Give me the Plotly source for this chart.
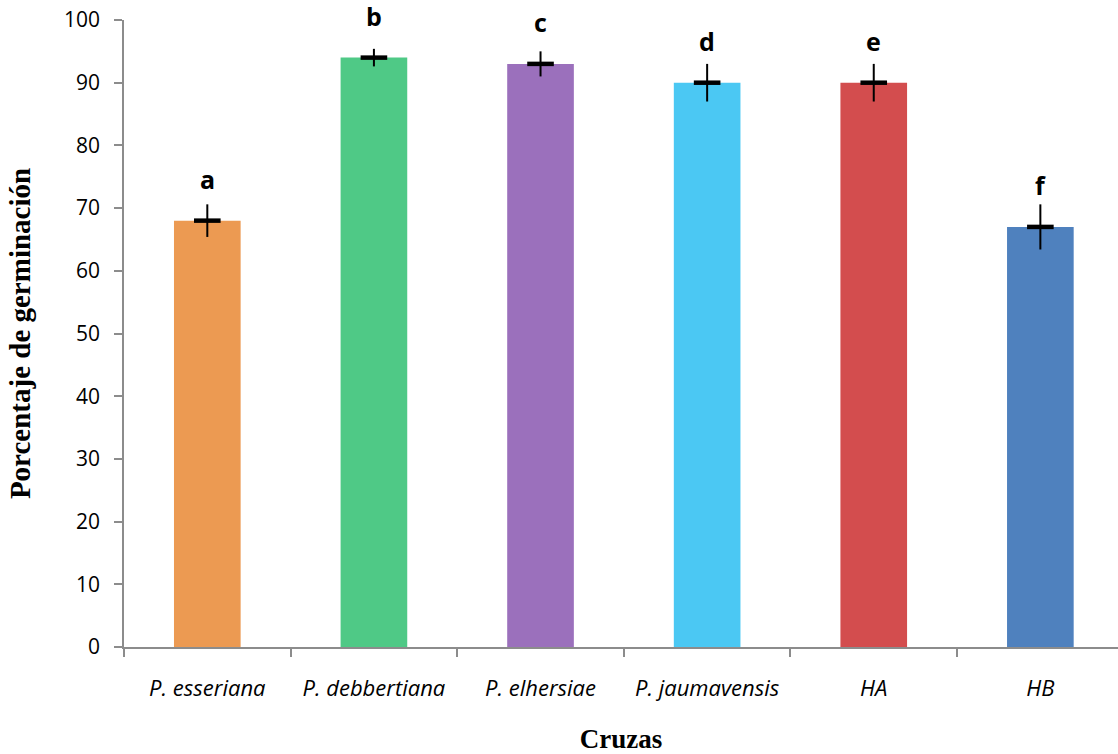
import plotly.graph_objects as go

# Germination percentage per cross, with standard error and significance letters
cruzas = ["P. esseriana", "P. debbertiana", "P. elhersiae", "P. jaumavensis", "HA", "HB"]
germinacion = [68, 94, 93, 90, 90, 67]
error = [2.6, 1.4, 2.0, 3.0, 3.0, 3.6]
letras = ["a", "b", "c", "d", "e", "f"]
colores = ["#EC9A52", "#4FC986", "#9B70BC", "#4BC8F3", "#D34D4E", "#4F81BE"]
y_ticks = list(range(0, 101, 10))

fig = go.Figure()

fig.add_trace(go.Bar(
    x=cruzas,
    y=germinacion,
    width=0.4,
    marker=dict(color=colores, line=dict(width=0)),
    error_y=dict(type="data", array=error, visible=True,
                 color="black", thickness=2, width=0),
    showlegend=False,
))

# thick horizontal mark at each mean
fig.add_trace(go.Scatter(
    x=cruzas,
    y=germinacion,
    mode="markers",
    marker=dict(symbol="line-ew", size=19, line=dict(width=4.5, color="black")),
    showlegend=False,
    hoverinfo="skip",
))

# significance letters a fixed distance above each bar top
for cat, val, letra in zip(cruzas, germinacion, letras):
    fig.add_annotation(
        x=cat, y=val, yshift=42,
        text="<b>%s</b>" % letra,
        showarrow=False,
        xanchor="center", yanchor="middle",
        font=dict(family="'Open Sans', sans-serif", size=25, color="black"),
    )

axis_color = "#8C8C8C"

fig.update_layout(
    width=1118,
    height=754,
    margin=dict(l=124, r=0, t=20, b=107),
    plot_bgcolor="white",
    paper_bgcolor="white",
    font=dict(family="'Open Sans', sans-serif", size=20, color="black"),
    bargap=0.6,
    xaxis=dict(
        type="category",
        range=[-0.5, 5.466],
        showline=True,
        linecolor=axis_color,
        linewidth=1.5,
        ticks="outside",
        tickson="boundaries",
        ticklen=8,
        tickwidth=1.5,
        tickcolor=axis_color,
        tickfont=dict(family="'Open Sans', sans-serif", size=22, style="italic"),
        ticklabelstandoff=21,
        showgrid=False,
        title=dict(text="<b>Cruzas</b>",
                   font=dict(family="'Liberation Serif', serif", size=27),
                   standoff=30),
    ),
    yaxis=dict(
        range=[0, 100],
        tickvals=y_ticks,
        showline=True,
        linecolor=axis_color,
        linewidth=1.5,
        ticks="outside",
        ticklen=8,
        tickwidth=1.5,
        tickcolor=axis_color,
        tickfont=dict(family="'Open Sans', sans-serif", size=21),
        ticklabelstandoff=10,
        showgrid=False,
        zeroline=False,
        title=dict(text="<b>Porcentaje de germinación</b>",
                   font=dict(family="'Liberation Serif', serif", size=29),
                   standoff=25),
    ),
)

fig.write_html("out.html")
